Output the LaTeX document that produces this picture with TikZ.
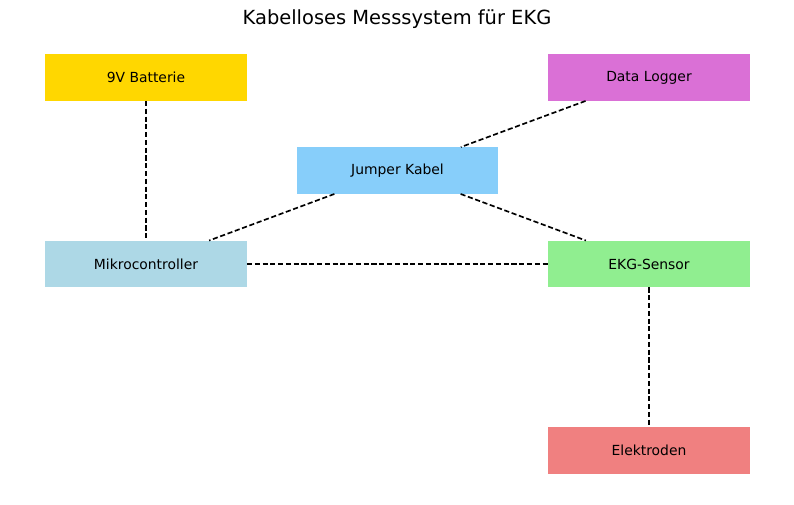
\documentclass[tikz,border=0pt]{standalone}
\usepackage{fontspec}
\setmainfont{DejaVu Sans}
\usetikzlibrary{positioning}

\definecolor{batterie}{HTML}{FFD700}
\definecolor{logger}{HTML}{DA70D6}
\definecolor{kabel}{HTML}{87CEFA}
\definecolor{mikro}{HTML}{ADD8E6}
\definecolor{sensor}{HTML}{90EE90}
\definecolor{elektrode}{HTML}{F08080}

\begin{document}
\begin{tikzpicture}[x=0.72pt,y=-0.72pt,
        box/.style={rectangle,minimum width=145.4pt,minimum height=33.8pt,inner sep=0pt,outer sep=0pt,font=\fontsize{10}{12}\selectfont},
        link/.style={dashed,line width=1.2pt,dash pattern=on 3.7pt off 1.9pt}]
            \useasboundingbox (0,0) rectangle (794,505);
            \node [font=\fontsize{14}{16}\selectfont] (title) at (397,19) {Kabelloses Messsystem für EKG};
            \node [box,fill=batterie] (batt) at (146,77.5) {9V Batterie};
            \node [box,fill=logger] (log) at (649,77.5) {Data Logger};
            \node [box,fill=kabel] (jump) at (397.5,170.5) {Jumper Kabel};
            \node [box,fill=mikro] (mcu) at (146,264) {Mikrocontroller};
            \node [box,fill=sensor] (ekg) at (649,264) {EKG-Sensor};
            \node [box,fill=elektrode] (elek) at (649,450.5) {Elektroden};
            \draw [link] (batt) -- (mcu);
            \draw [link] (log) -- (jump);
            \draw [link] (jump) -- (mcu);
            \draw [link] (jump) -- (ekg);
            \draw [link] (mcu) -- (ekg);
            \draw [link] (ekg) -- (elek);
        \end{tikzpicture}
\end{document}
